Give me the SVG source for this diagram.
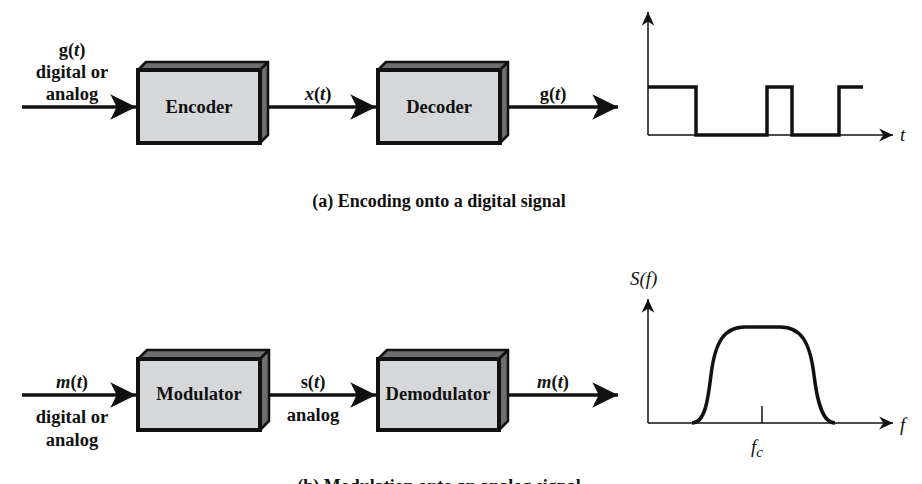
<svg xmlns="http://www.w3.org/2000/svg" width="922" height="484" viewBox="0 0 922 484">
<style>
.lbl{font-family:'Liberation Serif','DejaVu Serif','Times New Roman',Times,serif;font-weight:bold;font-size:18.5px;fill:#111;text-anchor:middle}
.cap{font-family:'Liberation Serif','DejaVu Serif','Times New Roman',Times,serif;font-weight:bold;font-size:18px;fill:#111;text-anchor:middle}
.ax{font-family:'Liberation Serif','DejaVu Serif','Times New Roman',Times,serif;font-style:italic;font-size:19px;fill:#111}
.front{fill:#d5d7d9;stroke:#111;stroke-width:4;stroke-linejoin:miter}
.side{fill:#6e6e6e;stroke:#111;stroke-width:2.5;stroke-linejoin:round}
.wire{stroke:#111;stroke-width:3.5;fill:none}
.axis{stroke:#111;stroke-width:1.5;fill:none}
.sig{stroke:#111;stroke-width:3.5;fill:none;stroke-linejoin:miter}
</style>
<defs>
<marker id="big" markerUnits="userSpaceOnUse" markerWidth="30" markerHeight="30" viewBox="-26 -13 28 26" refX="0" refY="0" orient="auto">
<path d="M0,0 L-24,-12 L-18,0 L-24,12 Z" fill="#111"/>
</marker>
<marker id="small" markerUnits="userSpaceOnUse" markerWidth="16" markerHeight="16" viewBox="-14 -7 15 14" refX="0" refY="0" orient="auto">
<path d="M0,0 L-13,-6 L-9,0 L-13,6 Z" fill="#111"/>
</marker>
</defs>

<g id="connectors">
<line class="wire" x1="22" y1="107" x2="136" y2="107" marker-end="url(#big)"/>
<line class="wire" x1="264" y1="107" x2="376" y2="107" marker-end="url(#big)"/>
<line class="wire" x1="504" y1="107" x2="618" y2="107" marker-end="url(#big)"/>
<line class="wire" x1="22" y1="395" x2="136" y2="395" marker-end="url(#big)"/>
<line class="wire" x1="264" y1="395" x2="376" y2="395" marker-end="url(#big)"/>
<line class="wire" x1="502" y1="395" x2="618" y2="395" marker-end="url(#big)"/>
</g>

<g id="encoder">
<polygon class="side" points="138,70 146,62 268,62 260,70"/>
<polygon class="side" points="260,70 268,62 268,135 260,143"/>
<rect class="front" x="138" y="70" width="122" height="73"/>
<text class="lbl" x="199" y="113">Encoder</text>
</g>

<g id="decoder">
<polygon class="side" points="378,70 386,62 508,62 500,70"/>
<polygon class="side" points="500,70 508,62 508,135 500,143"/>
<rect class="front" x="378" y="70" width="122" height="73"/>
<text class="lbl" x="439" y="113">Decoder</text>
</g>

<g id="modulator">
<polygon class="side" points="138,359 147,350 269,350 260,359"/>
<polygon class="side" points="260,359 269,350 269,421 260,430"/>
<rect class="front" x="138" y="359" width="122" height="71"/>
<text class="lbl" x="199" y="400">Modulator</text>
</g>

<g id="demodulator">
<polygon class="side" points="378,359 387,350 508,350 499,359"/>
<polygon class="side" points="499,359 508,350 508,421 499,430"/>
<rect class="front" x="378" y="359" width="121" height="71"/>
<text class="lbl" x="438" y="400">Demodulator</text>
</g>

<g id="labels">
<text class="lbl" x="72" y="56">g(<tspan font-style="italic">t</tspan>)</text>
<text class="lbl" x="72" y="78">digital or</text>
<text class="lbl" x="72" y="100">analog</text>
<text class="lbl" x="318" y="100"><tspan font-style="italic">x</tspan>(<tspan font-style="italic">t</tspan>)</text>
<text class="lbl" x="553" y="100">g(<tspan font-style="italic">t</tspan>)</text>
<text class="lbl" x="72" y="388"><tspan font-style="italic">m</tspan>(<tspan font-style="italic">t</tspan>)</text>
<text class="lbl" x="72" y="423">digital or</text>
<text class="lbl" x="72" y="446">analog</text>
<text class="lbl" x="313" y="388">s(<tspan font-style="italic">t</tspan>)</text>
<text class="lbl" x="313" y="421">analog</text>
<text class="lbl" x="553" y="388"><tspan font-style="italic">m</tspan>(<tspan font-style="italic">t</tspan>)</text>
<text class="cap" x="439" y="207">(a) Encoding onto a digital signal</text>
<text class="cap" x="439" y="492">(b) Modulation onto an analog signal</text>
</g>

<g id="graph-digital">
<line class="axis" x1="648" y1="135" x2="648" y2="12" marker-end="url(#small)"/>
<line class="axis" x1="648" y1="135" x2="893" y2="135" marker-end="url(#small)"/>
<polyline class="sig" points="648,87 696,87 696,135 767,135 767,87 792,87 792,135 839,135 839,87 863,87"/>
<text class="ax" x="900" y="141">t</text>
</g>

<g id="graph-analog">
<line class="axis" x1="648" y1="423" x2="648" y2="299" marker-end="url(#small)"/>
<line class="axis" x1="648" y1="423" x2="893" y2="423" marker-end="url(#small)"/>
<path class="sig" d="M692,423 C705,423 708,400 711,375 C715,342 724,327 745,327 L780,327 C801,327 810,342 814,375 C817,400 822,423 835,423"/>
<line class="axis" x1="762" y1="406" x2="762" y2="423"/>
<text class="ax" x="630" y="285">S(f)</text>
<text class="ax" x="900" y="431">f</text>
<text class="ax" x="751" y="453">f<tspan font-size="15" dy="4">c</tspan></text>
</g>
</svg>
